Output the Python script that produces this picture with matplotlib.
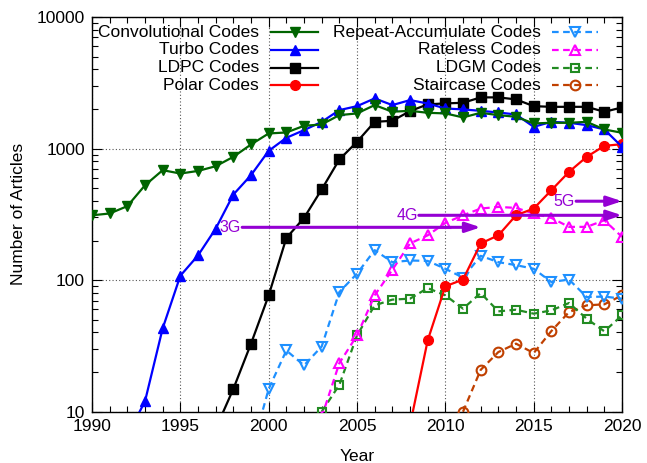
import numpy as np
import matplotlib.pyplot as plt
from matplotlib.lines import Line2D
from matplotlib.ticker import FixedLocator, NullFormatter

plt.rcParams['font.family'] = ['Liberation Sans', 'DejaVu Sans']

# Number of articles per year
conv_years = list(range(1990, 2021))
conv = [311, 321, 365, 526, 685, 646, 676, 734, 865, 1074, 1303, 1325, 1489,
        1525, 1795, 1850, 2140, 1905, 1936, 1870, 1850, 1725, 1870, 1795,
        1744, 1552, 1570, 1570, 1596, 1397, 1318]

turbo_years = list(range(1992, 2021))
turbo = [6.6, 12.0, 43, 108, 154, 246, 447, 628, 961, 1207, 1380, 1596, 1960,
         2100, 2405, 2140, 2335, 2200, 2018, 1983, 1936, 1880, 1816, 1462,
         1596, 1570, 1507, 1397, 1031]

ldpc_years = list(range(1997, 2021))
ldpc = [7.4, 14.9, 32.9, 76.6, 209, 297, 489, 826, 1125, 1597, 1625, 1926,
        2168, 2204, 2228, 2449, 2449, 2364, 2100, 2076, 2076, 2076, 1903, 2054]

polar_years = list(range(2008, 2021))
polar = [7.9, 34.8, 89.8, 101, 190, 219, 311, 350, 482, 665, 865, 1049, 1080]

ra_years = list(range(1999, 2021))
ra = [4.9, 14.9, 29.2, 22.5, 31.3, 81.2, 112, 169, 137, 141, 140, 122, 104.5,
      153, 137, 130, 122, 96.8, 101, 74.4, 75, 72.3]

rateless_years = list(range(2003, 2021))
rateless = [9.1, 23.4, 38, 76.6, 120, 190, 219, 272, 311, 350, 360, 354, 321,
            297, 254, 254, 285, 213]

ldgm_years = list(range(2003, 2021))
ldgm = [10, 16, 38, 64.3, 71.1, 72.3, 87, 76.6, 60.7, 79.8, 57.9, 59.6, 55.6,
        58.9, 67, 50.9, 40.8, 54]

stair_years = list(range(2011, 2021))
stair = [10, 20.8, 28.4, 32.9, 27.9, 41, 57.2, 64.3, 65.5, 76.6]

# generation arrows: label, start year, end year, level
gens = [('3G', 1998.5, 2012, 252), ('4G', 2008.5, 2020, 311),
        ('5G', 2017.4, 2020, 398)]

series = [
    ('Convolutional Codes', conv_years, conv, '#006400', 'v', '-', True),
    ('Turbo Codes', turbo_years, turbo, '#0000FF', '^', '-', True),
    ('LDPC Codes', ldpc_years, ldpc, '#000000', 's', '-', True),
    ('Polar Codes', polar_years, polar, '#FF0000', 'o', '-', True),
    ('Repeat-Accumulate Codes', ra_years, ra, '#1E90FF', 'v', '--', False),
    ('Rateless Codes', rateless_years, rateless, '#FF00FF', '^', '--', False),
    ('LDGM Codes', ldgm_years, ldgm, '#228B22', 's', '--', False),
    ('Staircase Codes', stair_years, stair, '#C04000', 'o', '--', False),
]


def style(color, marker, ls, filled):
    kw = dict(color=color, marker=marker, linestyle=ls, lw=1.6,
              markersize=7 if marker != 's' else 6.5)
    if ls == '--':
        kw['dashes'] = (3, 2)
    if filled:
        kw['markerfacecolor'] = color
    else:
        kw['markerfacecolor'] = 'none'
        kw['markeredgewidth'] = 1.5
        if marker == 's':
            kw['markersize'] = 5.5
    return kw


fig = plt.figure(figsize=(6.47, 4.63), dpi=100)
ax = fig.add_axes([0.1422, 0.1108, 0.8192, 0.8525])

for name, xs, ys, color, marker, ls, filled in series[::-1]:
    ax.plot(xs, ys, **style(color, marker, ls, filled), zorder=3)

purple = '#9400D3'
for lab, x0, x1, yv in gens:
    ax.annotate('', xy=(x1, yv), xytext=(x0, yv),
                arrowprops=dict(arrowstyle='-|>,head_length=0.9,head_width=0.3',
                                color=purple, lw=2.2, shrinkA=0, shrinkB=0),
                zorder=4)
    ax.text(x0 - 0.05, yv, lab, color=purple, fontsize=11.5, ha='right',
            va='center', zorder=4)

ax.set_yscale('log')
ax.set_xlim(1990, 2020)
ax.set_ylim(10, 10000)
ax.set_xticks(range(1990, 2021, 5))
ax.xaxis.set_minor_locator(FixedLocator(range(1990, 2021)))
ax.yaxis.set_major_locator(FixedLocator([10, 100, 1000, 10000]))
ax.set_yticklabels(['10', '100', '1000', '10000'])
ax.yaxis.set_minor_formatter(NullFormatter())
ax.tick_params(which='both', direction='in', top=True, right=True,
               labelsize=12.5, width=0.8)
ax.tick_params(which='major', length=7, pad=5)
ax.tick_params(which='minor', length=4)
ax.grid(True, which='major', ls=(0, (1, 2)), color='#555555', lw=0.8,
        zorder=0)
for sp in ax.spines.values():
    sp.set_linewidth(1.0)

ax.set_xlabel('Year', fontsize=12.5, labelpad=11)
ax.set_ylabel('Number of Articles', fontsize=12.5, labelpad=8)

# gnuplot-style key: text right-aligned, sample to the right
rows = [0.9612, 0.9164, 0.8715, 0.8277]
cols = [(0.3151, 0.3372, 0.4270), (0.8466, 0.8674, 0.9553)]
for i, (name, xs, ys, color, marker, ls, filled) in enumerate(series):
    tx, lx0, lx1 = cols[i // 4]
    ty = rows[i % 4]
    kw = style(color, marker, ls, filled)
    ax.text(tx, ty, name, transform=ax.transAxes, ha='right', va='center',
            fontsize=12.5, zorder=5)
    ax.add_line(Line2D([lx0, lx1], [ty, ty], transform=ax.transAxes,
                       **{k: v for k, v in kw.items() if k != 'marker'},
                       zorder=5))
    ax.add_line(Line2D([(lx0 + lx1) / 2], [ty], transform=ax.transAxes,
                       **{k: v for k, v in kw.items()
                          if k not in ('linestyle', 'dashes')},
                       linestyle='none', zorder=5))

fig.savefig('out.png', dpi=100)
